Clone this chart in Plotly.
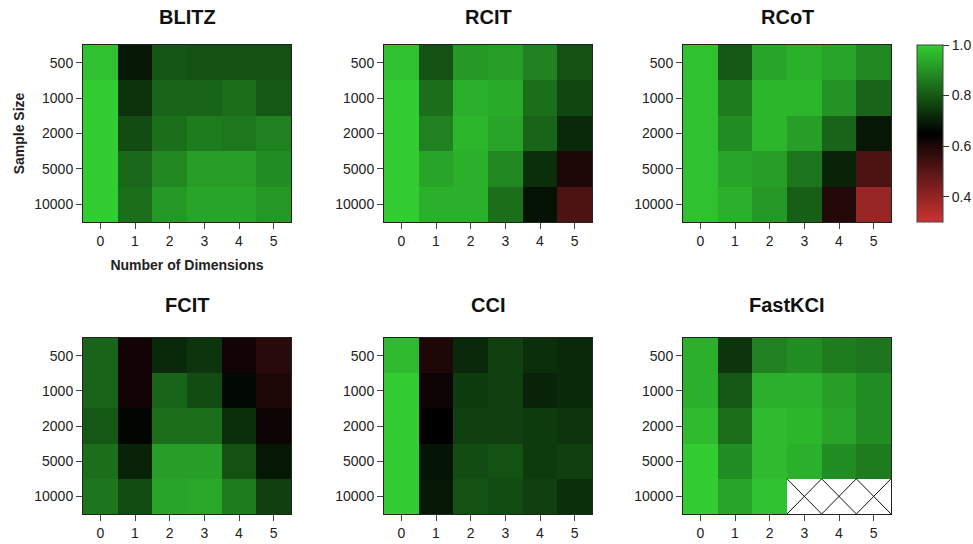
import plotly.graph_objects as go
import numpy as np

dims = [0, 1, 2, 3, 4, 5]
sample_sizes = ["500", "1000", "2000", "5000", "10000"]
tick_labels_cb = ["0.4", "0.6", "0.8", "1.0"]
tick_vals_cb = [0.4, 0.6, 0.8, 1.0]

blitz = [
    [0.98, 0.69, 0.795, 0.79, 0.79, 0.79],
    [1.00, 0.735, 0.82, 0.82, 0.84, 0.80],
    [1.00, 0.78, 0.84, 0.86, 0.855, 0.87],
    [1.00, 0.83, 0.88, 0.92, 0.92, 0.89],
    [1.00, 0.84, 0.91, 0.93, 0.93, 0.91],
]
rcit = [
    [0.98, 0.79, 0.91, 0.92, 0.87, 0.79],
    [1.00, 0.84, 0.95, 0.94, 0.84, 0.77],
    [1.00, 0.87, 0.96, 0.93, 0.82, 0.72],
    [1.00, 0.93, 0.95, 0.88, 0.73, 0.60],
    [1.00, 0.95, 0.95, 0.84, 0.68, 0.52],
]
rcot = [
    [0.98, 0.80, 0.93, 0.95, 0.93, 0.88],
    [0.98, 0.86, 0.96, 0.96, 0.90, 0.82],
    [0.98, 0.89, 0.96, 0.92, 0.82, 0.69],
    [0.98, 0.93, 0.92, 0.85, 0.71, 0.52],
    [0.98, 0.95, 0.91, 0.81, 0.59, 0.39],
]
fcit = [
    [0.82, 0.62, 0.72, 0.74, 0.62, 0.58],
    [0.82, 0.62, 0.82, 0.78, 0.665, 0.60],
    [0.80, 0.66, 0.84, 0.84, 0.73, 0.625],
    [0.84, 0.71, 0.92, 0.92, 0.79, 0.69],
    [0.85, 0.78, 0.93, 0.935, 0.86, 0.76],
]
cci = [
    [0.97, 0.60, 0.72, 0.76, 0.73, 0.72],
    [1.00, 0.625, 0.75, 0.76, 0.71, 0.72],
    [1.00, 0.65, 0.76, 0.76, 0.75, 0.74],
    [1.00, 0.685, 0.78, 0.79, 0.75, 0.76],
    [1.00, 0.69, 0.79, 0.78, 0.76, 0.73],
]
fastkci = [
    [0.95, 0.74, 0.87, 0.89, 0.86, 0.85],
    [0.95, 0.80, 0.95, 0.95, 0.92, 0.89],
    [0.97, 0.84, 0.97, 0.96, 0.93, 0.89],
    [1.00, 0.89, 0.97, 0.95, 0.89, 0.86],
    [1.00, 0.93, 0.98, None, None, None],
]

methods = ["BLITZ", "RCIT", "RCoT", "FCIT", "CCI", "FastKCI"]
matrices = [blitz, rcit, rcot, fcit, cci, fastkci]

W, H = 973, 544
col_px = [(83, 291), (384, 592), (683, 891)]
row_px = [(45, 222), (338, 514)]
title_px = [17, 305]

FONT = "Liberation Sans, Arial, sans-serif"
colorscale = [[0.0, "rgb(205,50,50)"], [0.5, "rgb(0,0,0)"], [1.0, "rgb(50,205,50)"]]
ZMIN, ZMAX = 0.3, 1.0

fig = go.Figure()
annotations = []
yidx = list(range(len(sample_sizes)))

for i, (name, mat) in enumerate(zip(methods, matrices)):
    r, c = divmod(i, 3)
    n = i + 1
    xa = "x" if n == 1 else f"x{n}"
    ya = "y" if n == 1 else f"y{n}"
    z = np.array([[np.nan if v is None else v for v in row] for row in mat], dtype=float)
    fig.add_trace(go.Heatmap(
        z=z, x=dims, y=yidx, xaxis=xa, yaxis=ya,
        colorscale=colorscale, zmin=ZMIN, zmax=ZMAX,
        showscale=(i == 2), hoverongaps=False,
        colorbar=dict(
            x=917 / W, xanchor="left", xpad=0, ypad=0,
            y=1 - 222 / H, yanchor="bottom", len=177 / H, lenmode="fraction",
            thickness=26, thicknessmode="pixels",
            outlinecolor="#444", outlinewidth=1,
            tickvals=tick_vals_cb, ticktext=tick_labels_cb,
            ticks="outside", ticklen=6, tickcolor="#333",
            tickfont=dict(family=FONT, size=14, color="#222"),
        ),
    ))
    # hatch missing cells with X marks
    hx, hy = [], []
    for ri in range(z.shape[0]):
        for ci in range(z.shape[1]):
            if np.isnan(z[ri, ci]):
                xc, yc = dims[ci], yidx[ri]
                hx += [xc - 0.5, xc + 0.5, None, xc - 0.5, xc + 0.5, None]
                hy += [yc - 0.5, yc + 0.5, None, yc + 0.5, yc - 0.5, None]
    if hx:
        fig.add_trace(go.Scatter(x=hx, y=hy, mode="lines", xaxis=xa, yaxis=ya,
                                 line=dict(color="#111", width=1), showlegend=False,
                                 hoverinfo="skip"))

    x0, x1 = col_px[c]
    y0, y1 = row_px[r]
    xkey = "xaxis" if n == 1 else f"xaxis{n}"
    ykey = "yaxis" if n == 1 else f"yaxis{n}"
    fig.layout[xkey] = dict(
        domain=[x0 / W, x1 / W], anchor=ya, range=[-0.5, 5.5], automargin=False,
        tickvals=dims, ticks="outside", ticklen=6, tickcolor="#444",
        showline=True, mirror=True, linecolor="#222", linewidth=1,
        showgrid=False, zeroline=False,
        tickfont=dict(family=FONT, size=14, color="#222"),
        title=dict(text="<b>Number of Dimensions</b>" if i == 0 else "",
                   font=dict(family=FONT, size=14, color="#222"), standoff=12),
    )
    fig.layout[ykey] = dict(
        domain=[1 - y1 / H, 1 - y0 / H], anchor=xa, range=[4.5, -0.5], automargin=False,
        tickvals=yidx, ticktext=sample_sizes, ticks="outside", ticklen=6, tickcolor="#444",
        showline=True, mirror=True, linecolor="#222", linewidth=1,
        showgrid=False, zeroline=False,
        tickfont=dict(family=FONT, size=14, color="#222"),
        title=dict(text="<b>Sample Size</b>" if i == 0 else "",
                   font=dict(family=FONT, size=14, color="#222"), standoff=6),
    )
    annotations.append(dict(
        text=f"<b>{name}</b>", x=(x0 + x1) / 2 / W, y=1 - title_px[r] / H,
        xref="paper", yref="paper", xanchor="center", yanchor="middle",
        showarrow=False, font=dict(family=FONT, size=20, color="#111"),
    ))

fig.update_layout(
    width=W, height=H, margin=dict(l=0, r=0, t=0, b=0, autoexpand=False),
    paper_bgcolor="white", plot_bgcolor="white",
    annotations=annotations, showlegend=False,
)

fig.write_html("out.html")
